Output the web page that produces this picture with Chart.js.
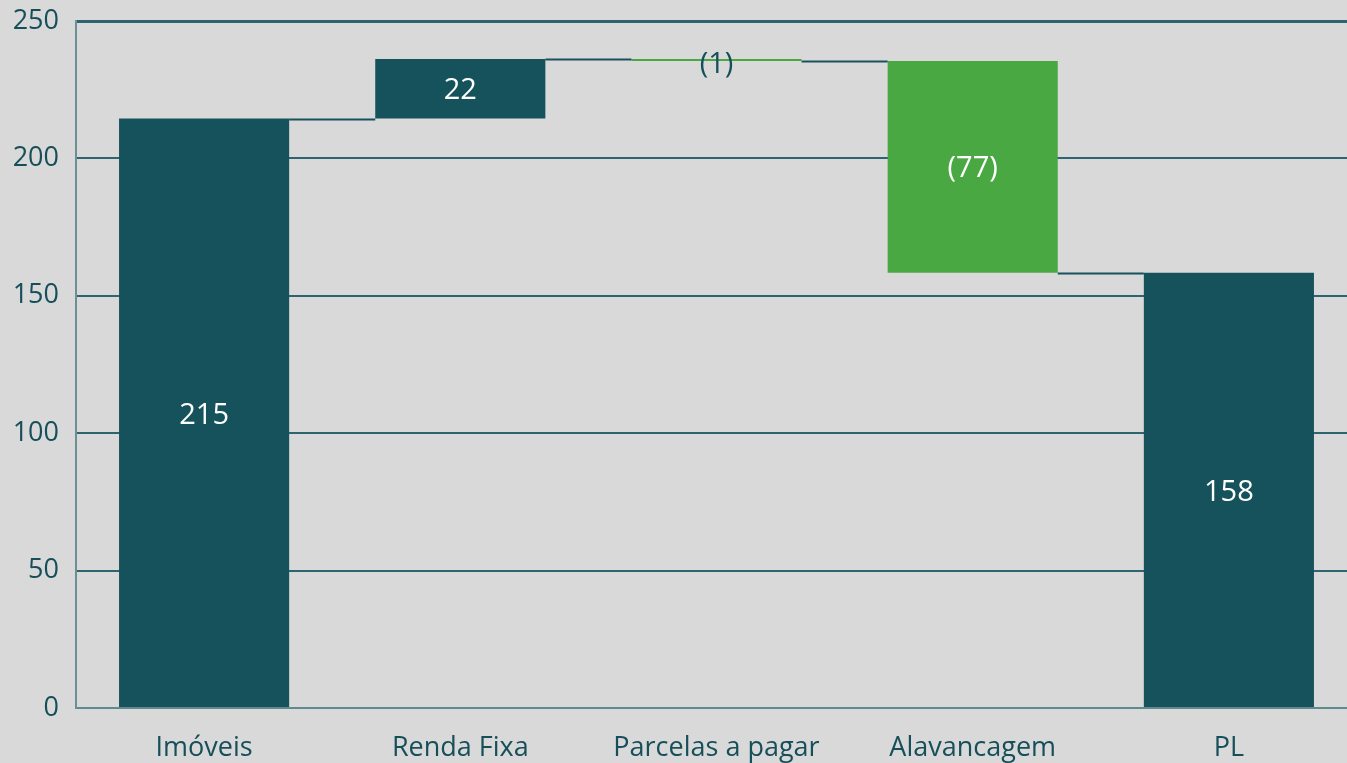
<!DOCTYPE html>
<html>
<head>
<meta charset="utf-8">
<script src="https://cdn.jsdelivr.net/npm/chart.js@4/dist/chart.umd.min.js"></script>
<style>
  html, body { margin: 0; padding: 0; background: #d9d9d9; overflow: hidden; }
  #wrap { position: relative; width: 1357px; height: 763px; }
</style>
</head>
<body>
<div id="wrap"><canvas id="c"></canvas></div>
<script>
// ---- data ----
const categories = ['Imóveis', 'Renda Fixa', 'Parcelas a pagar', 'Alavancagem', 'PL'];
const changes = [214.5, 21.7, -0.8, -77.0, 158.4];
const isTotal = [true, false, false, false, true];
const valueLabels = ['215', '22', '(1)', '(77)', '158'];
const yTicks = [0, 50, 100, 150, 200, 250];

// ---- styles ----
const TEAL = '#16525c';
const GREEN = '#4aa843';
const TEXT = '#164f5a';
const FONT = "'Open Sans', 'Noto Sans', sans-serif";

// build floating ranges from the values
const ranges = [];
let running = 0;
changes.forEach((v, i) => {
  if (isTotal[i]) { ranges.push([0, v]); running = v; }
  else { ranges.push([running, running + v]); running += v; }
});
const barColors = changes.map((v, i) => (v < 0 && !isTotal[i]) ? GREEN : TEAL);
const labelColors = ranges.map(r => Math.abs(r[1] - r[0]) < 5 ? TEXT : '#ffffff');

const connectorPlugin = {
  id: 'connectors',
  afterDatasetsDraw(chart) {
    const ctx = chart.ctx;
    const meta = chart.getDatasetMeta(0);
    const y = chart.scales.y;
    ctx.save();
    ctx.strokeStyle = TEAL;
    ctx.lineWidth = 2;
    for (let i = 0; i < meta.data.length - 1; i++) {
      const a = meta.data[i], b = meta.data[i + 1];
      const level = ranges[i][1];
      const py = Math.round(y.getPixelForValue(level)) + 0.5;
      ctx.beginPath();
      ctx.moveTo(a.x + a.width / 2, py);
      ctx.lineTo(b.x - b.width / 2, py);
      ctx.stroke();
    }
    ctx.restore();
  }
};

const labelPlugin = {
  id: 'valueLabels',
  afterDatasetsDraw(chart) {
    const ctx = chart.ctx;
    const meta = chart.getDatasetMeta(0);
    const y = chart.scales.y;
    ctx.save();
    ctx.font = '29px ' + FONT;
    ctx.textAlign = 'center';
    ctx.textBaseline = 'middle';
    meta.data.forEach((bar, i) => {
      const r = ranges[i];
      const small = Math.abs(r[1] - r[0]) < 5;
      const cy = (y.getPixelForValue(r[0]) + y.getPixelForValue(r[1])) / 2 + (small ? 5 : 2);
      ctx.fillStyle = labelColors[i];
      ctx.fillText(valueLabels[i], bar.x, cy);
    });
    ctx.restore();
  }
};

new Chart(document.getElementById('c'), {
  type: 'bar',
  data: {
    labels: categories,
    datasets: [{
      data: ranges,
      backgroundColor: barColors,
      borderWidth: 0,
      borderSkipped: false,
      minBarLength: 2,
      barPercentage: 1.0,
      categoryPercentage: 0.664
    }]
  },
  options: {
    responsive: true,
    maintainAspectRatio: false,
    animation: false,
    layout: { autoPadding: false, padding: { top: 21, right: 0, left: 0, bottom: 0 } },
    plugins: { legend: { display: false }, tooltip: { enabled: false } },
    scales: {
      x: {
        grid: { display: false, drawTicks: false },
        border: { display: true, color: '#5f8a90', width: 2 },
        ticks: { color: TEXT, font: { family: FONT, size: 27 }, padding: 24, maxRotation: 0, autoSkip: false },
        afterFit(scale) { scale.height = 55; scale.paddingLeft = 0; scale.paddingRight = 0; }
      },
      y: {
        min: 0, max: 250,
        afterBuildTicks(scale) { scale.ticks = yTicks.map(v => ({ value: v })); },
        grid: {
          color: ctx => ctx.tick && ctx.tick.value === 0 ? 'rgba(0,0,0,0)' : '#2c6570',
          lineWidth: ctx => ctx.tick && ctx.tick.value === 250 ? 3 : 2,
          drawTicks: false
        },
        border: { display: true, color: '#6a9096', width: 2 },
        ticks: { color: TEXT, font: { family: FONT, size: 27 }, padding: 17 },
        afterFit(scale) { scale.width = 76; scale.paddingTop = 0; scale.paddingBottom = 0; }
      }
    }
  },
  plugins: [connectorPlugin, labelPlugin]
});
</script>
</body>
</html>
